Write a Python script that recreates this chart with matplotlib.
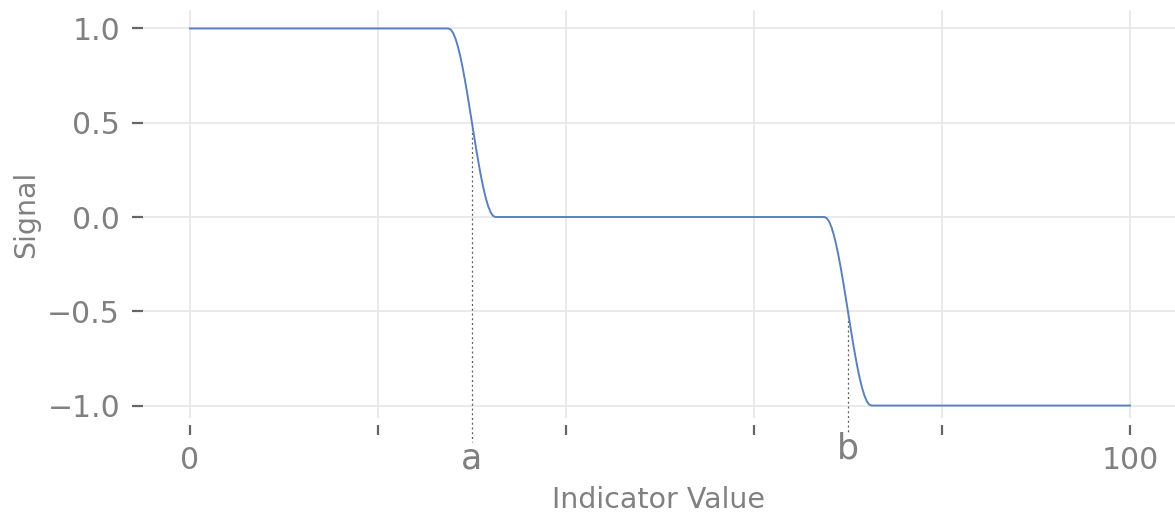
import matplotlib
matplotlib.use('Agg')
import matplotlib.pyplot as plt

# values
signal_x = [0.0,
            27.5, 27.75, 28.0, 28.25, 28.5, 28.75, 29.0, 29.25, 29.5, 29.75, 30.0,
            30.25, 30.5, 30.75, 31.0, 31.25, 31.5, 31.75, 32.0, 32.25, 32.5,
            67.5, 67.75, 68.0, 68.25, 68.5, 68.75, 69.0, 69.25, 69.5, 69.75, 70.0,
            70.25, 70.5, 70.75, 71.0, 71.25, 71.5, 71.75, 72.0, 72.25, 72.5,
            100.0]
signal_y = [1.0,
            1.0, 0.994, 0.976, 0.946, 0.905, 0.854, 0.794, 0.727, 0.655, 0.578, 0.5,
            0.422, 0.345, 0.273, 0.206, 0.146, 0.095, 0.054, 0.024, 0.006, 0.0,
            0.0, -0.006, -0.024, -0.054, -0.095, -0.146, -0.206, -0.273, -0.345, -0.422, -0.5,
            -0.578, -0.655, -0.727, -0.794, -0.854, -0.905, -0.946, -0.976, -0.994, -1.0,
            -1.0]

x_ticks = [0, 20, 40, 60, 80, 100]
x_tick_labels = ['0', '', '', '', '', '100']
y_ticks = [-1.0, -0.5, 0.0, 0.5, 1.0]

marks = ['a', 'b']
mark_x = [30, 70]
mark_y = [0.5, -0.5]

text_color = '#808080'
line_color = '#5b80bb'

fig = plt.figure(figsize=(11.75, 5.15), dpi=100)
ax = fig.add_axes([143 / 1175, 97 / 515, 1 - 143 / 1175, 408 / 515])

ax.grid(True, color='#e6e6e6', linewidth=1.2)
ax.set_axisbelow(True)
for side in ['top', 'right', 'left', 'bottom']:
  ax.spines[side].set_visible(False)
ax.spines['bottom'].set_position(('outward', 5))

ax.plot(signal_x, signal_y, color=line_color, linewidth=1.4, zorder=3,
        solid_joinstyle='round')

# dotted guides down to the labels
guide_end = [-1.194, -1.146]
label_base = [-1.332, -1.279]
for name, mx, my, ge, lb in zip(marks, mark_x, mark_y, guide_end, label_base):
  ax.plot([mx, mx], [my, ge], color='#606060', linestyle=(0, (1.6, 2.2)), linewidth=0.9,
          clip_on=False, zorder=2)
  ax.text(mx, lb, name, ha='center', va='baseline', fontsize=25, color=text_color, clip_on=False)

ax.set_xlim(-5, 104.8)
ax.set_ylim(-1.066, 1.098)
ax.set_xticks(x_ticks)
ax.set_xticklabels(x_tick_labels)
ax.set_yticks(y_ticks)

ax.tick_params(axis='x', length=7, width=1.6, color='#666666', pad=8, labelsize=21.5,
               labelcolor=text_color)
ax.tick_params(axis='y', length=8, width=1.6, color='#666666', pad=8.5, labelsize=21.5,
               labelcolor=text_color)

ax.set_xlabel('Indicator Value', fontsize=20.5, color=text_color, labelpad=8)
ax.set_ylabel('Signal', fontsize=20.5, color=text_color, labelpad=5)

fig.savefig('out.png', dpi=100)
